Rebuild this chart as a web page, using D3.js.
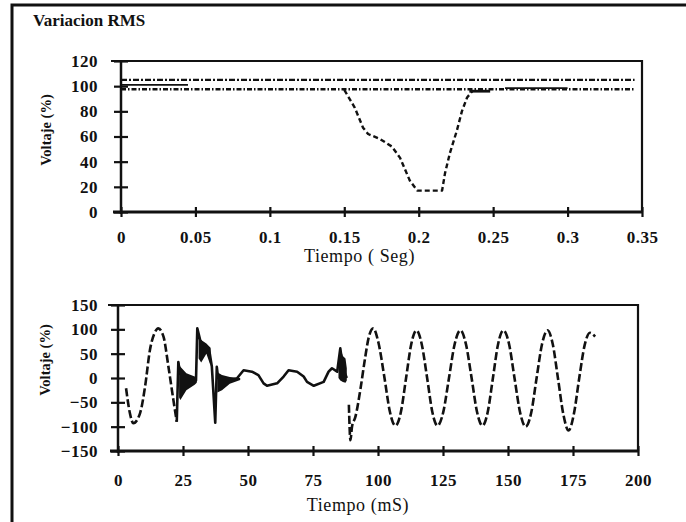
<!DOCTYPE html>
<html>
<head>
<meta charset="utf-8">
<script src="https://cdn.jsdelivr.net/npm/d3@7"></script>
<style>
  body { margin: 0; background: #fff; }
  svg { display: block; font-family: "Liberation Serif", "Times New Roman", serif; }
</style>
</head>
<body>
<script>
// --- RMS chart (top) ---
var rmsTicksX = [0, 0.05, 0.1, 0.15, 0.2, 0.25, 0.3, 0.35],
  rmsTicksY = [0, 20, 40, 60, 80, 100, 120],
  limitTime = [0, 0.345],
  upperLimit = [105, 105],
  lowerLimit = [97.5, 97.5],
  rmsPreTime = [0, 0.045],
  rmsPreValue = [101, 101],
  sagTime = [0.150, 0.157, 0.1626, 0.166, 0.174, 0.182, 0.1875, 0.194, 0.199, 0.2157, 0.2177, 0.221, 0.2257, 0.229, 0.2325, 0.236],
  sagValue = [97, 83, 67, 62, 58, 52, 43, 25, 17, 17, 31, 47, 65, 80, 91, 96],
  recoverTime = [0.234, 0.248],
  recoverValue = [96, 96],
  postTime = [0.258, 0.3],
  postValue = [98.5, 98.5];

// --- waveform chart (bottom) ---
var waveTicksX = [0, 25, 50, 75, 100, 125, 150, 175, 200],
  waveTicksY = [-150, -100, -50, 0, 50, 100, 150],
  preTime = [3.1, 4.6, 5.9, 8.5, 10.4, 12.3, 14.3, 15.5, 17.5, 19.4, 21.3, 22.6],
  preValue = [-21, -73, -93, -72, -18, 58, 95, 102, 85, 23, -45, -90],
  transTime = [22.6, 23.2, 23.8, 26, 30, 30.5, 31.6, 33, 35, 36.1, 37.4, 38, 38.5, 43.2, 45.7, 48.3, 51.5, 54, 56, 57.3, 61.2, 63.7, 65.6, 68.9, 71.4, 72.7, 75.3, 79.1, 81, 82.3, 84.3, 85.5, 86.5, 88],
  transValue = [-90, 33, 10, -5, -5, 102, 78, 65, 60, 23, -92, 23, 0, -4, -1, 16, 13, 6, -11, -16, -11, 3, 16, 13, 3, -8, -16, -8, 13, 20, 13, 61, 20, 0],
  ringTime = [[23.5, 24, 26.3, 29.5, 30.3], [31, 32, 34, 35.6], [38.2, 40, 43, 47], [84.8, 85.5, 86.5, 87.5, 88]],
  ringHigh = [[33, 23, 10, 3, 2], [80, 78, 71, 62], [12, 6, 2, 0], [30, 61, 45, 40, 20]],
  ringLow = [[-40, -45, -25, -14, -10], [40, 32, 50, 25], [-30, -25, -12, -4], [0, -5, -8, -10, -5]],
  postWaveTime = [88.8, 89.4, 90, 91.3, 93.3, 95, 96.5, 98.2, 100.2, 102.5, 104.6, 106.7, 108.8, 110.8, 112.8, 114.8, 116.8, 118.9, 120.9, 122.9, 125.1, 127.3, 129.5, 131.7, 133.8, 136, 138.1, 140.2, 142.2, 144.2, 146.2, 148.2, 150.4, 152.5, 154.7, 156.8, 158.9, 161, 163.1, 165.2, 167.2, 169.2, 171.3, 173.3, 175.4, 177.4, 179.5, 181.5, 183.5],
  postWaveValue = [-55, -128, -100, -80, -21, 40, 85, 102, 72, 0, -70, -98, -70, 0, 70, 98, 70, 0, -70, -98, -70, 0, 70, 98, 70, 0, -70, -98, -70, 0, 70, 98, 70, 0, -72, -100, -72, 0, 70, 98, 70, 0, -75, -108, -72, 0, 68, 93, 85];

var svg = d3.select('body').append('svg').attr('width', 686).attr('height', 522),
  ink = '#111';

// page frame (scanned sheet border)
svg.append('path').attr('d', 'M12,522V5H686').attr('fill', 'none').attr('stroke', ink).attr('stroke-width', 3);

svg.append('text').attr('x', 33).attr('y', 26).text('Variacion RMS')
  .style('font-size', '17px').style('font-weight', 'bold').attr('fill', ink);

function makePanel(conf) {
  var x = d3.scaleLinear().domain(conf.xDomain).range([conf.left, conf.right]),
    y = d3.scaleLinear().domain(conf.yDomain).range([conf.bottom, conf.top]),
    g = svg.append('g'),
    yAxisG, xAxisG;

  yAxisG = g.append('g').attr('transform', 'translate(' + conf.left + ',0)')
    .call(d3.axisLeft(y).tickValues(conf.yTicks).tickSize(7).tickPadding(conf.yPad).tickFormat(d3.format('d')));
  xAxisG = g.append('g').attr('transform', 'translate(0,' + conf.bottom + ')')
    .call(d3.axisBottom(x).tickValues(conf.xTicks).tickSize(5).tickPadding(conf.xPad).tickFormat(conf.xFormat));

  [yAxisG, xAxisG].forEach(function(a) {
    a.select('.domain').remove();
    a.attr('font-family', null).attr('font-size', null);
    a.selectAll('.tick line').attr('stroke', ink).attr('stroke-width', 2.2);
    a.selectAll('.tick text').attr('fill', ink)
      .style('font-size', '17px').style('font-weight', 'bold').style('letter-spacing', '0.5px');
  });
  // ticks cross the axis line
  yAxisG.selectAll('.tick line').attr('x1', 7);
  xAxisG.selectAll('.tick line').attr('y1', -5);

  // frame: left axis, bottom axis, top and right border
  g.append('path')
    .attr('d', 'M' + (conf.left - 10) + ',' + conf.top + 'H' + conf.right + 'V' + conf.bottom)
    .attr('fill', 'none').attr('stroke', ink).attr('stroke-width', 2.2);
  g.append('line').attr('x1', conf.left).attr('x2', conf.left).attr('y1', conf.top).attr('y2', conf.bottom + 2)
    .attr('stroke', ink).attr('stroke-width', 2.5);
  g.append('line').attr('x1', conf.left - 8).attr('x2', conf.right + 1).attr('y1', conf.bottom).attr('y2', conf.bottom)
    .attr('stroke', ink).attr('stroke-width', 3);

  g.append('text').attr('x', (conf.left + conf.right) / 2 + conf.titleShift).attr('y', conf.titleY)
    .attr('text-anchor', 'middle').attr('fill', ink).text(conf.xTitle)
    .style('font-size', '18px').style('letter-spacing', '0.6px');
  g.append('text').attr('transform', 'translate(' + conf.yTitleX + ',' + conf.yTitleY + ') rotate(-90)')
    .attr('text-anchor', 'middle').attr('dominant-baseline', 'central').attr('fill', ink)
    .text('Voltaje (%)').style('font-size', '14.5px').style('font-weight', 'bold');

  return { x: x, y: y, g: g };
}

function drawSeries(p, times, values, dash, width, curve) {
  var line = d3.line().x(function(d) { return p.x(d[0]); }).y(function(d) { return p.y(d[1]); })
    .curve(curve || d3.curveLinear);
  p.g.append('path').datum(d3.zip(times, values)).attr('d', line)
    .attr('fill', 'none').attr('stroke', ink).attr('stroke-width', width)
    .attr('stroke-dasharray', dash).attr('stroke-linejoin', 'round');
}

function drawBand(p, times, lo, hi) {
  var area = d3.area().x(function(d) { return p.x(d[0]); })
    .y0(function(d) { return p.y(d[1]); }).y1(function(d) { return p.y(d[2]); });
  p.g.append('path').datum(d3.zip(times, lo, hi)).attr('d', area).attr('fill', ink);
}

var rmsPanel = makePanel({
  left: 121, right: 642, top: 61, bottom: 212,
  xDomain: [0, 0.35], yDomain: [0, 120],
  xTicks: rmsTicksX, yTicks: rmsTicksY, yPad: 16, xPad: 14,
  xFormat: function(d) { return String(d); },
  xTitle: 'Tiempo ( Seg)', titleY: 262, titleShift: -22,
  yTitleX: 46, yTitleY: 130
});

drawSeries(rmsPanel, limitTime, upperLimit, '6,2,2,2', 2.4);
drawSeries(rmsPanel, limitTime, lowerLimit, '5,2,1.5,2', 2.4);
drawSeries(rmsPanel, rmsPreTime, rmsPreValue, null, 1.6);
drawSeries(rmsPanel, sagTime, sagValue, '5,3', 2.4);
drawSeries(rmsPanel, recoverTime, recoverValue, null, 2.8);
drawSeries(rmsPanel, postTime, postValue, null, 1.8);

var wavePanel = makePanel({
  left: 118, right: 638, top: 305, bottom: 451,
  xDomain: [0, 200], yDomain: [-150, 150],
  xTicks: waveTicksX, yTicks: waveTicksY, yPad: 13, xPad: 18,
  xFormat: d3.format('d'),
  xTitle: 'Tiempo (mS)', titleY: 511, titleShift: -20,
  yTitleX: 45, yTitleY: 360
});

drawSeries(wavePanel, preTime, preValue, '8,3', 2.6, d3.curveMonotoneX);
drawSeries(wavePanel, transTime, transValue, null, 2.6);
ringTime.forEach(function(t, i) { drawBand(wavePanel, t, ringLow[i], ringHigh[i]); });
drawSeries(wavePanel, postWaveTime, postWaveValue, '8,3', 2.6, d3.curveMonotoneX);
</script>
</body>
</html>
